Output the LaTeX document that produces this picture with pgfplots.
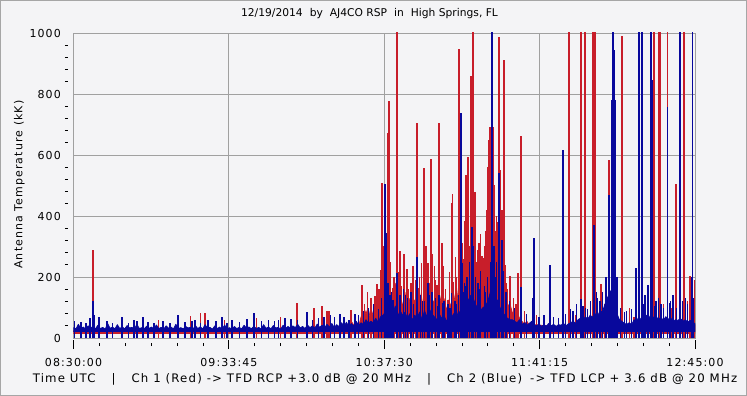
\documentclass[border=0pt]{standalone}
\usepackage{fontspec}
\setmainfont{DejaVu Sans}
\newfontfamily\spaced{DejaVu Sans}[LetterSpace=10]
\usepackage{pgfplots}
\usepackage{pgfplotstable}
\pgfplotsset{compat=1.18}
\definecolor{bg}{RGB}{244,244,246}
\definecolor{gridgray}{RGB}{160,160,160}
\definecolor{chred}{RGB}{200,30,42}
\definecolor{chblue}{RGB}{8,8,156}

% Ch 1 (red) noise band: upper envelope, then the lower edge (15 kK) back to the start
\pgfplotstableread{
t y
0 24
1 22
2 27
3 23
4 26
5 21
6 25
7 28
8 30
9 23
10 25
11 22
12 26
13 24
14 27
15 22
16 25
17 21
18 26
19 24
20 23
21 27
22 25
23 22
24 24
25 26
26 23
27 25
28 22
29 27
30 24
31 21
32 25
33 23
34 26
35 22
36 24
37 27
38 23
39 25
40 22
41 26
42 24
43 21
44 25
45 28
46 23
47 26
48 30
49 24
50 27
51 23
52 31
53 25
54 28
55 22
56 26
57 24
58 27
59 23
60 25
61 22
62 26
63 24
64 27
65 23
66 25
67 21
68 24
69 26
70 23
71 25
72 22
73 27
74 24
75 23
76 26
77 22
78 25
79 24
80 27
81 23
82 25
83 22
84 26
85 24
86 27
87 23
88 25
89 28
90 30
91 26
92 32
93 27
94 29
95 25
96 30
97 26
98 33
99 28
100 31
101 27
102 34
103 29
104 32
105 30
106 35
107 29
108 33
109 31
110 38
111 34
112 45
113 40
114 55
115 42
116 50
117 38
118 70
119 55
120 90
121 60
122 100
123 70
124 120
125 75
126 140
127 110
128 170
129 120
130 160
131 105
132 180
133 120
134 160
135 100
136 150
137 90
138 130
139 85
140 125
141 95
142 150
143 100
144 160
145 115
146 180
147 130
148 115
149 95
150 150
151 110
152 130
153 90
154 125
155 100
156 145
157 95
158 170
159 120
160 200
161 160
162 260
163 230
164 300
165 210
166 180
167 150
168 200
169 240
170 290
171 330
172 300
173 220
174 260
175 190
176 150
177 125
178 100
179 115
180 85
181 70
182 85
183 65
184 55
185 45
186 55
187 42
188 48
189 40
190 45
191 38
192 42
193 36
194 40
195 38
196 35
197 39
198 36
199 40
200 37
201 35
202 40
203 38
204 42
205 40
206 45
207 42
208 48
209 44
210 50
211 45
212 52
213 48
214 55
215 50
216 60
217 52
218 70
219 60
220 80
221 70
222 65
223 50
224 45
225 40
226 38
227 42
228 36
229 40
230 38
231 42
232 40
233 45
234 38
235 42
236 40
237 45
238 42
239 48
240 44
241 40
242 46
243 42
244 45
245 40
246 44
247 42
248 46
249 40
250 44
251 42
252 45
253 40
254 42
255 44
255 15
0 15
}\redband

% Ch 2 (blue) noise band: upper envelope, then the lower edge (21 kK) back to the start
\pgfplotstableread{
t y
0 34
1 30
2 45
3 31
4 36
5 29
6 40
7 33
8 38
9 30
10 42
11 31
12 35
13 29
14 48
15 32
16 36
17 30
18 44
19 31
20 37
21 30
22 41
23 33
24 35
25 29
26 46
27 31
28 34
29 30
30 39
31 32
32 36
33 30
34 43
35 31
36 35
37 29
38 40
39 32
40 36
41 30
42 45
43 31
44 34
45 30
46 38
47 33
48 35
49 29
50 41
51 31
52 37
53 30
54 44
55 32
56 35
57 29
58 40
59 31
60 36
61 28
62 43
63 30
64 34
65 29
66 38
67 31
68 35
69 30
70 42
71 32
72 36
73 30
74 39
75 31
76 35
77 29
78 44
79 32
80 36
81 30
82 41
83 33
84 35
85 29
86 42
87 31
88 38
89 32
90 40
91 34
92 45
93 33
94 38
95 31
96 43
97 34
98 40
99 32
100 46
101 35
102 42
103 33
104 45
105 36
106 48
107 34
108 44
109 37
110 50
111 38
112 52
113 36
114 48
115 40
116 55
117 42
118 50
119 44
120 60
121 48
122 55
123 50
124 65
125 52
126 70
127 75
128 85
129 70
130 95
131 75
132 105
133 70
134 90
135 75
136 85
137 65
138 80
139 60
140 75
141 65
142 85
143 60
144 90
145 70
146 95
147 80
148 70
149 60
150 80
151 65
152 75
153 55
154 70
155 65
156 80
157 60
158 90
159 75
160 105
161 95
162 125
163 140
164 130
165 110
166 95
167 90
168 100
169 105
170 120
171 150
172 135
173 110
174 125
175 100
176 85
177 75
178 65
179 60
180 60
181 55
182 50
183 60
184 45
185 50
186 42
187 48
188 55
189 44
190 40
191 46
192 38
193 44
194 39
195 48
196 40
197 45
198 38
199 44
200 42
201 48
202 40
203 46
204 50
205 55
206 48
207 60
208 65
209 58
210 70
211 62
212 75
213 68
214 80
215 70
216 90
217 85
218 110
219 130
220 150
221 160
222 120
223 80
224 60
225 55
226 48
227 45
228 50
229 44
230 60
231 55
232 70
233 58
234 65
235 75
236 62
237 80
238 66
239 72
240 60
241 68
242 58
243 70
244 62
245 66
246 55
247 60
248 58
249 64
250 55
251 60
252 52
253 58
254 50
255 48
255 21
0 21
}\blueband

\pgfplotstableread{
t h
8.0 290
20.0 55
35.0 60
48.0 72
52.0 82
54.0 82
62.0 58
75.0 65
85.0 70
91.7 115
98.7 100
102.0 105
104.0 88
104.8 88
113.9 92
118.4 174
119.5 110
120.6 150
122.1 131
123.7 138
124.5 177
125.3 160
126.2 223
126.6 508
127.0 260
127.4 300
128.0 190
129.0 672
129.4 777
130.2 250
130.8 165
131.5 200
132.7 1100
133.3 215
134.0 285
134.7 170
135.6 275
136.8 226
137.5 160
138.5 180
139.3 235
140.3 190
140.9 705
141.8 165
142.0 200
142.8 245
143.8 558
144.6 300
145.5 246
146.7 587
147.1 275
148.0 235
148.5 190
149.2 175
150.0 705
151.2 311
151.8 235
152.5 160
153.6 125
154.2 215
155.0 443
155.4 472
156.0 185
156.8 265
157.0 200
158.2 948
159.6 310
160.0 260
160.5 385
161.0 535
161.3 440
161.9 594
162.0 355
162.5 300
162.9 420
163.1 860
163.5 479
163.9 1100
164.0 400
164.3 479
164.7 479
165.0 330
165.5 250
166.0 290
166.4 311
167.0 340
167.6 270
168.0 262
168.6 300
169.2 350
169.6 420
170.1 561
170.5 650
170.9 692
171.3 692
171.7 692
172.1 692
172.6 500
173.0 350
173.5 400
174.2 380
174.6 987
175.0 551
175.8 420
176.2 300
176.6 912
177.0 240
177.5 180
178.2 160
179.1 203
180.5 130
181.5 110
182.4 213
183.6 663
185.0 90
190.0 75
195.5 70
201.0 60
203.3 1100
206.0 75
208.2 1100
209.9 1100
211.0 80
213.2 1100
213.6 1100
214.0 1100
216.4 177
218.0 110
219.7 584
221.0 230
223.0 90
225.0 990
228.0 100
230.0 70
234.0 95
236.9 120
238.2 1100
239.9 1100
240.3 1100
240.7 1100
242.0 110
243.6 1100
245.5 100
247.2 505
249.0 95
250.5 1100
252.0 120
253.0 203
254.7 190
}\redspikes

\pgfplotstableread{
t h
0.4 55
3.1 52
5.1 50
6.8 66
8.0 121
8.4 75
10.5 69
13.7 55
16.0 50
19.9 68
22.5 48
24.8 60
26.1 55
28.5 68
30.6 52
33.0 50
36.7 55
39.6 50
42.9 75
45.7 52
48.6 55
49.9 60
52.0 50
55.2 58
58.5 55
60.9 68
63.0 50
65.0 58
68.0 52
71.2 62
74.1 82
77.0 55
80.0 60
82.5 55
84.0 58
86.8 65
89.2 62
92.0 60
95.8 85
98.0 60
100.5 65
102.8 70
105.5 75
107.0 70
109.3 80
111.0 70
113.0 60
115.5 80
117.0 75
119.0 90
121.0 100
123.0 110
125.0 95
126.5 130
127.8 505
128.2 344
129.0 180
129.8 140
130.5 150
131.1 124
132.7 213
133.8 120
134.0 140
135.5 160
136.2 140
137.0 130
138.5 150
139.6 110
140.9 266
142.5 140
143.2 120
144.0 120
145.5 180
146.2 140
147.1 150
148.5 130
149.6 105
150.0 140
151.5 115
152.0 120
153.6 110
154.5 100
155.0 148
156.5 120
157.2 110
158.0 140
159.0 738
159.4 246
160.0 150
160.5 180
161.0 170
161.5 200
162.5 250
163.5 364
164.0 300
165.0 200
166.0 180
166.5 160
167.0 220
168.5 170
169.0 150
170.0 200
171.0 250
171.7 1100
172.0 400
172.5 300
173.0 200
173.5 250
174.6 541
175.8 321
176.0 160
176.5 220
177.5 150
179.0 120
181.0 100
183.6 167
186.0 80
188.5 131
189.0 328
191.0 70
193.0 75
195.5 239
197.0 70
199.0 65
200.8 617
202.0 80
204.0 95
205.0 90
206.5 110
208.2 128
209.0 105
210.0 100
211.0 95
212.0 120
213.6 371
214.5 150
215.0 130
216.0 120
217.0 150
218.5 200
219.7 469
220.5 131
220.9 780
221.4 1100
221.8 945
222.2 780
223.0 200
224.5 100
226.0 85
227.0 90
229.0 95
230.8 230
232.0 1100
233.2 1100
233.8 110
234.5 140
235.7 174
236.0 120
236.9 1100
237.4 846
238.5 105
239.0 120
240.0 130
241.0 110
242.0 100
243.6 758
244.5 115
245.0 120
246.0 140
247.5 100
248.8 1100
250.0 120
251.0 130
252.0 110
253.5 200
253.9 1100
254.3 130
}\bluespikes

\begin{document}
\begin{tikzpicture}
\path[use as bounding box] (-73.5bp,-58bp) rectangle (673.5bp,338bp);
\fill[bg] (-73.5bp,-58bp) rectangle (673.5bp,338bp);
\draw[gray!70, line width=1.2bp] (-72.9bp,-57.4bp) rectangle (672.9bp,337.4bp);
\begin{axis}[
  at={(0,0)}, anchor=south west,
  scale only axis, width=621.5bp, height=305bp,
  xmin=0, xmax=255, ymin=0, ymax=1000,
  xtick={0,63.75,127.5,191.25,255},
  xticklabels={08:30:00,09:33:45,10:37:30,11:41:15,12:45:00},
  minor x tick num=5,
  ytick={0,200,400,600,800,1000},
  minor y tick num=4,
  grid=major,
  major grid style={draw=gridgray, line width=0.9bp},
  axis line style={draw=gridgray, line width=0.9bp},
  tick align=outside, tick pos=left,
  major tick length=9bp, minor tick length=3bp,
  tick style={black, line width=0.8bp},
  major x tick style={yshift=-2bp},
  minor x tick style={yshift=-5bp},
  major y tick style={draw=none},
  minor y tick style={xshift=-5.5bp},
  /pgf/number format/assume math mode=true,
  /pgf/number format/1000 sep={},
  xticklabel style={font=\spaced\fontsize{11bp}{13bp}\selectfont, anchor=base, yshift=-19.5bp},
  yticklabel style={font=\spaced\fontsize{11bp}{13bp}\selectfont, anchor=east, inner xsep=0pt, xshift=-3.5bp},
  title={12/19/2014\hspace{7bp}by\hspace{7bp}AJ4CO RSP\hspace{7bp}in\hspace{7bp}High Springs, FL},
  title style={font=\fontsize{10.7bp}{13bp}\selectfont, at={(axis description cs:0.4763,1.0344)}, anchor=base, inner sep=0pt},
  xlabel={Time UTC\hspace{16bp}|\hspace{16bp}Ch 1 (Red) -> TFD RCP +3.0 dB @ 20 MHz\hspace{16bp}|\hspace{16bp}Ch 2 (Blue)\hspace{8bp}-> TFD LCP + 3.6 dB @ 20 MHz},
  xlabel style={font=\spaced\fontsize{11.75bp}{14bp}\selectfont, at={(axis description cs:0.5012,-0.1466)}, anchor=base, inner sep=0pt},
  ylabel={Antenna Temperature (kK)},
  ylabel style={font=\spaced\fontsize{11bp}{13bp}\selectfont, at={(axis description cs:-0.0821,0.503)}, anchor=base, inner sep=0pt},
]
\addplot[draw=chred, fill=chred, line width=0.7bp, line join=round] table[x=t, y=y] {\redband};
\addplot[chred, ycomb, line width=1.3bp] table[x=t, y=h] {\redspikes};
\addplot[draw=chblue, fill=chblue, line width=0.7bp, line join=round] table[x=t, y=y] {\blueband};
\addplot[chblue, ycomb, line width=1.3bp] table[x=t, y=h] {\bluespikes};
\end{axis}
\end{tikzpicture}
\end{document}
